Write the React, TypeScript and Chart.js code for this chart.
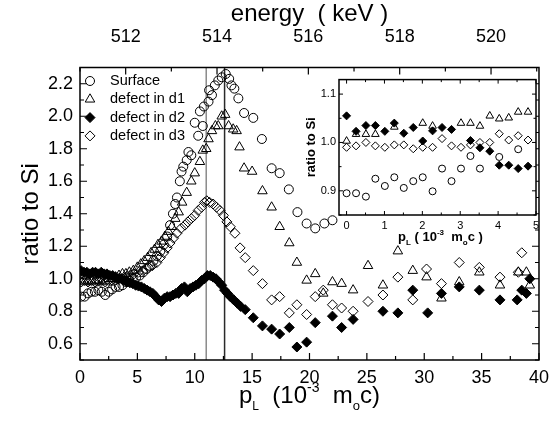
import React, { useEffect, useRef } from 'react';
import { Chart, registerables } from 'chart.js';
import { drawPoint } from 'chart.js/helpers';
Chart.register(...registerables);

const FAMILY = "'Liberation Sans', Arial, Helvetica, sans-serif";

// ---------- main plot data ----------
const surfaceX = [0.1,0.4,0.7,1.0,1.3,1.6,1.9,2.2,2.5,2.8,3.1,3.4,3.7,4.0,4.3,4.6,4.9,5.2,5.5,5.8,6.1,6.4,6.7,7.0,7.3,7.6,7.85,8.1,8.3,8.45,8.7,8.85,9.0,9.3,9.45,9.7,10.0,10.3,10.45,10.7,10.8,11.2,11.25,11.5,11.75,12.05,12.35,12.7,13.0,13.2,13.45,13.8,14.3,15.1,15.85,16.7,17.4,18.2,18.95,19.75,20.5,21.3,22.0];
const surfaceY = [0.89,0.89,0.91,0.92,0.92,0.93,0.92,0.90,0.92,0.935,0.95,0.95,0.96,0.98,0.99,1.0,1.01,1.02,1.04,1.06,1.08,1.11,1.14,1.17,1.21,1.26,1.33,1.40,1.46,1.50,1.60,1.66,1.69,1.73,1.78,1.76,1.96,1.88,2.03,1.94,2.06,2.09,2.16,2.13,2.19,2.22,2.24,2.26,2.23,2.19,2.17,2.11,2.02,1.99,1.86,1.68,1.65,1.55,1.41,1.34,1.31,1.34,1.36];

const d1X = [0.1,0.4,0.7,1.0,1.3,1.6,1.9,2.2,2.5,2.8,3.1,3.4,3.7,4.0,4.3,4.65,5.0,5.3,5.6,5.9,6.2,6.5,6.8,7.1,7.4,7.7,8.0,8.3,8.6,8.9,9.3,9.7,10.0,10.45,10.7,11.0,11.2,11.5,11.8,12.05,12.35,12.65,12.95,13.35,13.65,13.9,14.3,15.0,15.9,16.7,17.4,18.24,18.9,19.75,20.5,21.2,22.0,22.8,23.8,25.1,26.4,27.7,29.0,30.2,31.5,33.05,34.8,36.6,38.2,38.9,39.2];
const d1Y = [0.99,0.98,0.99,0.98,0.99,0.99,0.98,0.99,1.0,1.0,1.01,1.02,1.03,1.03,1.04,1.05,1.07,1.09,1.11,1.13,1.16,1.18,1.21,1.23,1.26,1.29,1.32,1.37,1.41,1.47,1.53,1.60,1.65,1.72,1.79,1.80,1.86,1.91,1.94,1.94,2.0,2.01,1.94,1.92,1.91,1.81,1.68,1.66,1.54,1.44,1.32,1.22,1.10,0.99,1.03,0.91,0.98,0.97,0.93,1.08,0.96,1.17,1.05,1.01,0.88,0.98,1.04,0.96,1.04,1.04,0.96];

const d2X = [0.1,0.35,0.6,0.85,1.1,1.35,1.6,1.85,2.1,2.35,2.6,2.85,3.1,3.35,3.6,3.85,4.1,4.35,4.6,4.85,5.1,5.35,5.6,5.85,6.1,6.35,6.6,6.85,7.1,7.35,7.6,7.85,8.1,8.35,8.6,8.85,9.1,9.35,9.6,9.85,10.1,10.35,10.6,10.85,11.1,11.35,11.6,11.85,12.1,12.35,12.6,12.85,13.1,13.4,13.7,14.0,14.4,15.1,15.9,16.7,17.4,18.24,18.9,19.75,20.5,22.0,22.8,23.8,26.4,27.7,29.0,30.3,31.5,33.05,34.8,36.6,38.1,38.5,38.9,39.2];
const d2Y = [1.05,1.04,1.04,1.03,1.04,1.04,1.03,1.04,1.03,1.03,1.02,1.02,1.01,1.0,1.0,0.99,0.98,0.975,0.97,0.96,0.955,0.95,0.94,0.93,0.92,0.91,0.89,0.87,0.86,0.88,0.89,0.89,0.90,0.91,0.91,0.94,0.95,0.92,0.94,0.95,0.96,0.97,0.99,1.0,1.02,1.02,1.01,1.0,0.98,0.96,0.93,0.91,0.89,0.87,0.85,0.83,0.81,0.76,0.71,0.69,0.66,0.70,0.58,0.61,0.73,0.77,0.70,0.75,0.80,0.79,0.93,0.79,0.91,0.95,0.93,0.87,0.87,0.93,0.91,1.0];

const d3X = [0.1,0.4,0.7,1.0,1.3,1.6,1.9,2.2,2.5,2.8,3.1,3.4,3.7,4.0,4.35,4.7,5.1,5.5,5.95,6.3,6.7,7.0,7.3,7.6,7.85,8.15,8.45,8.8,9.15,9.4,9.7,10.0,10.3,10.6,10.85,11.05,11.3,11.6,11.9,12.2,12.5,12.8,13.1,13.5,13.95,14.4,15.1,15.9,16.7,17.4,18.24,18.9,19.75,20.5,21.2,22.0,22.8,23.8,25.1,26.4,27.7,29.0,30.2,31.5,33.05,34.8,36.6,38.2,38.5];
const d3Y = [0.98,0.99,0.98,0.99,0.98,0.99,0.99,0.98,0.99,0.99,0.99,1.0,1.0,1.01,1.02,1.03,1.04,1.05,1.07,1.08,1.10,1.13,1.16,1.19,1.22,1.25,1.28,1.31,1.33,1.35,1.37,1.39,1.42,1.44,1.47,1.48,1.47,1.46,1.44,1.42,1.39,1.35,1.32,1.28,1.19,1.13,1.05,0.97,0.87,0.89,0.79,0.84,0.78,0.89,0.93,0.84,0.82,0.80,0.86,0.90,1.01,0.87,1.06,0.97,1.10,1.07,1.01,1.04,1.16];

// ---------- inset data ----------
const inSurfX = [0,0.25,0.51,0.76,1.01,1.26,1.51,1.76,2.01,2.27,2.52,2.77,3.02,3.27,3.52,4.03,4.53];
const inSurfY = [0.895,0.895,0.888,0.925,0.91,0.928,0.906,0.92,0.928,0.899,0.946,0.92,0.946,0.972,0.946,0.97,0.986];
const inD1X = [0,0.25,0.51,0.76,1.26,2.01,2.27,3.02,3.27,3.52,3.78,4.03,4.28,4.53,4.79];
const inD1Y = [1.003,1.017,1.017,1.017,1.032,1.04,1.034,1.04,1.04,1.034,1.055,1.049,1.051,1.063,1.063];
const inD2X = [0,0.25,0.51,0.76,1.01,1.26,1.51,1.76,2.01,2.27,2.52,2.77,3.27,3.52,3.78,4.03,4.28,4.53,4.79];
const inD2Y = [1.055,1.023,1.035,1.035,1.023,1.04,1.019,1.031,1.003,1.024,1.031,1.027,1.004,0.989,0.982,0.953,0.953,0.946,0.951];
const inD3X = [0,0.25,0.51,0.76,1.01,1.26,1.51,1.76,2.01,2.27,2.52,2.77,3.02,3.27,3.52,3.78,4.03,4.28,4.53,4.79];
const inD3Y = [0.99,0.993,1.0,0.993,0.99,0.995,0.995,0.987,0.99,0.99,1.008,0.993,0.99,0.995,1.0,1.0,1.018,1.005,1.014,1.005];

// ---------- ticks / labels ----------
const xTicks = [0,5,10,15,20,25,30,35,40];
const yTicks = [0.6,0.8,1.0,1.2,1.4,1.6,1.8,2.0,2.2];
const energyTicks = [512,514,516,518,520];
const markerLines = [11.0, 12.6];
const legendLabels = ['Surface','defect in d1','defect in d2','defect in d3'];
const insetXTicks = [0,1,2,3,4,5];
const insetYTicks = [0.9,1.0,1.1];

const pts = (xs: number[], ys: number[]) => xs.map((x, i) => ({ x, y: ys[i] }));

type Part = { t: string; s: number; dy?: number; w?: number };
function drawRich(ctx: CanvasRenderingContext2D, parts: Part[], cx: number, baseY: number, bold: boolean) {
  let total = 0;
  for (const p of parts) {
    ctx.font = `${bold ? 'bold ' : ''}${p.s}px ${FAMILY}`;
    p.w = ctx.measureText(p.t).width;
    total += p.w;
  }
  let x = cx - total / 2;
  ctx.textAlign = 'left';
  ctx.textBaseline = 'alphabetic';
  ctx.fillStyle = '#000';
  for (const p of parts) {
    ctx.font = `${bold ? 'bold ' : ''}${p.s}px ${FAMILY}`;
    ctx.fillText(p.t, x, baseY + (p.dy || 0));
    x += p.w || 0;
  }
}

function edgeTicks(ctx: CanvasRenderingContext2D, chart: any, scaleId: string, edge: string, major: number, minor: number, majLen: number, minLen: number) {
  const s = chart.scales[scaleId];
  const ca = chart.chartArea;
  const ratio = Math.round(major / minor);
  ctx.beginPath();
  for (let k = Math.ceil(s.min / minor - 1e-9); k * minor <= s.max + 1e-9; k++) {
    const v = k * minor;
    const len = k % ratio === 0 ? majLen : minLen;
    const p = s.getPixelForValue(v);
    if (edge === 'bottom') { ctx.moveTo(p, ca.bottom); ctx.lineTo(p, ca.bottom - len); }
    if (edge === 'top') { ctx.moveTo(p, ca.top); ctx.lineTo(p, ca.top + len); }
    if (edge === 'left') { ctx.moveTo(ca.left, p); ctx.lineTo(ca.left + len, p); }
    if (edge === 'right') { ctx.moveTo(ca.right, p); ctx.lineTo(ca.right - len, p); }
  }
  ctx.stroke();
}

const styles = [
  { pointStyle: 'circle', radius: 4.5, fill: 'rgba(0,0,0,0)' },
  { pointStyle: 'triangle', radius: 5.5, fill: 'rgba(0,0,0,0)' },
  { pointStyle: 'rectRot', radius: 5, fill: '#000' },
  { pointStyle: 'rectRot', radius: 5, fill: 'rgba(0,0,0,0)' },
];

function dataset(label: string, data: any[], i: number, scale: number) {
  const st = styles[i];
  return {
    label,
    data,
    pointStyle: st.pointStyle,
    pointRadius: st.radius * scale,
    borderColor: '#000',
    backgroundColor: st.fill,
    pointBorderWidth: 1,
    borderWidth: 1,
    showLine: false,
  };
}

export default function App() {
  const mainRef = useRef<HTMLCanvasElement>(null);
  const insetRef = useRef<HTMLCanvasElement>(null);

  useEffect(() => {
    Chart.defaults.font.family = FAMILY;
    Chart.defaults.color = '#000';

    const mainPlugin = {
      id: 'mainDecor',
      beforeDatasetsDraw(chart: any) {
        const ctx = chart.ctx as CanvasRenderingContext2D;
        const ca = chart.chartArea;
        const xs = chart.scales.x;
        const colors = ['#8a8a8a', '#2a2a2a'];
        ctx.save();
        markerLines.forEach((v, i) => {
          const p = xs.getPixelForValue(v);
          ctx.strokeStyle = colors[i];
          ctx.lineWidth = 1.5;
          ctx.beginPath();
          ctx.moveTo(p, ca.top);
          ctx.lineTo(p, ca.bottom);
          ctx.stroke();
        });
        ctx.restore();
      },
      afterDatasetsDraw(chart: any) {
        const ctx = chart.ctx as CanvasRenderingContext2D;
        const ca = chart.chartArea;
        ctx.save();
        ctx.strokeStyle = '#000';
        ctx.lineWidth = 1.5;
        ctx.strokeRect(ca.left, ca.top, ca.right - ca.left, ca.bottom - ca.top);
        ctx.lineWidth = 1.2;
        edgeTicks(ctx, chart, 'x', 'bottom', 5, 2.5, 7, 4);
        edgeTicks(ctx, chart, 'x2', 'top', 2, 1, 7, 4);
        edgeTicks(ctx, chart, 'y', 'left', 0.2, 0.1, 7, 4);
        edgeTicks(ctx, chart, 'y', 'right', 0.2, 0.1, 7, 4);
        // legend
        legendLabels.forEach((lab, i) => {
          const st = styles[i];
          const y = ca.top + 13.5 + i * 18.3;
          ctx.fillStyle = st.fill;
          ctx.strokeStyle = '#000';
          ctx.lineWidth = 1;
          drawPoint(ctx, { pointStyle: st.pointStyle as any, radius: st.radius, rotation: 0, borderWidth: 1 } as any, ca.left + 10, y);
          ctx.fillStyle = '#000';
          ctx.font = `14.5px ${FAMILY}`;
          ctx.textAlign = 'left';
          ctx.textBaseline = 'middle';
          ctx.fillText(lab, ca.left + 30, y);
        });
        // x title with sub/superscripts
        drawRich(ctx, [
          { t: 'p', s: 24 },
          { t: 'L', s: 12, dy: 7 },
          { t: '  (10', s: 24 },
          { t: '-3', s: 14, dy: -11 },
          { t: '  m', s: 24 },
          { t: 'o', s: 13, dy: 7 },
          { t: 'c)', s: 24 },
        ], (ca.left + ca.right) / 2, 403, false);
        ctx.restore();
      },
    };

    const main = new Chart(mainRef.current!, {
      type: 'scatter',
      data: {
        datasets: [
          dataset(legendLabels[0], pts(surfaceX, surfaceY), 0, 1),
          dataset(legendLabels[1], pts(d1X, d1Y), 1, 1),
          dataset(legendLabels[2], pts(d2X, d2Y), 2, 1),
          dataset(legendLabels[3], pts(d3X, d3Y), 3, 1),
        ] as any,
      },
      options: {
        responsive: false,
        animation: false,
        events: [],
        layout: { padding: { left: 0, right: 17, top: 0, bottom: 0 } },
        plugins: { legend: { display: false }, tooltip: { enabled: false } },
        scales: {
          x: {
            type: 'linear', position: 'bottom', min: 0, max: 40,
            grid: { display: false, drawTicks: false }, border: { display: false },
            ticks: { font: { size: 18 }, color: '#000', padding: 7, maxRotation: 0, autoSkip: false, callback: (v: any) => String(v) },
            afterBuildTicks: (s: any) => { s.ticks = xTicks.map((v) => ({ value: v })); },
            afterFit: (s: any) => { s.height = 61; },
          },
          x2: {
            type: 'linear', position: 'top', min: 511, max: 521.05,
            grid: { display: false, drawTicks: false }, border: { display: false },
            ticks: { font: { size: 18 }, color: '#000', padding: 20, maxRotation: 0, autoSkip: false, callback: (v: any) => String(v) },
            title: { display: true, text: 'energy  ( keV )', font: { size: 24 }, color: '#000', padding: 0 },
            afterBuildTicks: (s: any) => { s.ticks = energyTicks.map((v) => ({ value: v })); },
            afterFit: (s: any) => { s.height = 67.5; },
          },
          y: {
            type: 'linear', position: 'left', min: 0.5, max: 2.3,
            grid: { display: false, drawTicks: false }, border: { display: false },
            ticks: { font: { size: 18 }, color: '#000', padding: 7, autoSkip: false, callback: (v: any) => Number(v).toFixed(1) },
            title: { display: true, text: 'ratio to Si', font: { size: 24 }, color: '#000', padding: { top: 17, bottom: 0 } },
            afterBuildTicks: (s: any) => { s.ticks = yTicks.map((v) => ({ value: v })); },
            afterFit: (s: any) => { s.width = 80; },
          },
        },
      } as any,
      plugins: [mainPlugin],
    });

    const insetPlugin = {
      id: 'insetDecor',
      beforeDatasetsDraw(chart: any) {
        const ctx = chart.ctx as CanvasRenderingContext2D;
        const ca = chart.chartArea;
        ctx.save();
        ctx.fillStyle = '#fff';
        ctx.fillRect(ca.left, ca.top, ca.right - ca.left, ca.bottom - ca.top);
        ctx.restore();
      },
      afterDatasetsDraw(chart: any) {
        const ctx = chart.ctx as CanvasRenderingContext2D;
        const ca = chart.chartArea;
        ctx.save();
        ctx.strokeStyle = '#000';
        ctx.lineWidth = 1.5;
        ctx.strokeRect(ca.left, ca.top, ca.right - ca.left, ca.bottom - ca.top);
        ctx.lineWidth = 1;
        edgeTicks(ctx, chart, 'x', 'bottom', 1, 0.5, 4, 2.5);
        edgeTicks(ctx, chart, 'x', 'top', 1, 0.5, 4, 2.5);
        edgeTicks(ctx, chart, 'y', 'left', 0.1, 0.05, 4, 2.5);
        edgeTicks(ctx, chart, 'y', 'right', 0.1, 0.05, 4, 2.5);
        drawRich(ctx, [
          { t: 'p', s: 13 },
          { t: 'L', s: 8, dy: 4 },
          { t: ' ( 10', s: 13 },
          { t: '-3', s: 8, dy: -6 },
          { t: '  m', s: 13 },
          { t: 'o', s: 8, dy: 4 },
          { t: 'c )', s: 13 },
        ], (ca.left + ca.right) / 2 + 3, 171, true);
        ctx.restore();
      },
    };

    const inset = new Chart(insetRef.current!, {
      type: 'scatter',
      data: {
        datasets: [
          dataset(legendLabels[0], pts(inSurfX, inSurfY), 0, 0.78),
          dataset(legendLabels[1], pts(inD1X, inD1Y), 1, 0.8),
          dataset(legendLabels[2], pts(inD2X, inD2Y), 2, 0.8),
          dataset(legendLabels[3], pts(inD3X, inD3Y), 3, 0.8),
        ] as any,
      },
      options: {
        responsive: false,
        animation: false,
        events: [],
        layout: { padding: { left: 0, right: 12, top: 7, bottom: 0 } },
        plugins: { legend: { display: false }, tooltip: { enabled: false } },
        scales: {
          x: {
            type: 'linear', position: 'bottom', min: -0.2, max: 5,
            grid: { display: false, drawTicks: false }, border: { display: false },
            ticks: { font: { size: 11 }, color: '#000', padding: 4, maxRotation: 0, autoSkip: false, callback: (v: any) => String(v) },
            afterBuildTicks: (s: any) => { s.ticks = insetXTicks.map((v) => ({ value: v })); },
            afterFit: (s: any) => { s.height = 35; },
          },
          y: {
            type: 'linear', position: 'left', min: 0.85, max: 1.13,
            grid: { display: false, drawTicks: false }, border: { display: false },
            ticks: { font: { size: 11 }, color: '#000', padding: 3, autoSkip: false, callback: (v: any) => Number(v).toFixed(1) },
            title: { display: true, text: 'ratio to Si', font: { size: 13, weight: 'bold' }, color: '#000', padding: { top: 6, bottom: 0 } },
            afterBuildTicks: (s: any) => { s.ticks = insetYTicks.map((v) => ({ value: v })); },
            afterFit: (s: any) => { s.width = 41; },
          },
        },
      } as any,
      plugins: [insetPlugin],
    });

    return () => {
      main.destroy();
      inset.destroy();
    };
  }, []);

  return (
    <div style={{ position: 'absolute', left: 0, top: 0, width: 556, height: 421, background: '#fff' }}>
      <canvas ref={mainRef} width={556} height={421} style={{ position: 'absolute', left: 0, top: 0 }} />
      <canvas ref={insetRef} width={250} height={180} style={{ position: 'absolute', left: 298, top: 70 }} />
    </div>
  );
}
